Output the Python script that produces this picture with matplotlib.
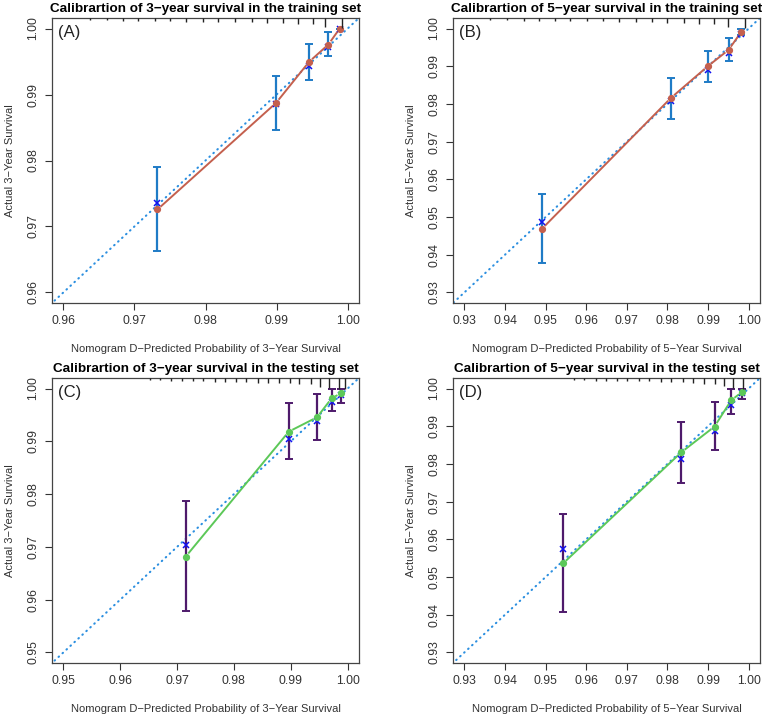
import matplotlib.pyplot as plt

plt.rcParams['font.family'] = ['Liberation Sans', 'DejaVu Sans']

# ---- data ----
# (A) 3-year, training
a_pred = [0.97324, 0.98994, 0.99457, 0.99729, 0.99888]
a_obs = [0.97258, 0.98874, 0.99495, 0.99758, 1.00000]
a_km = [0.97359, 0.98854, 0.99434, 0.99722, 1.00000]
a_lo = [0.96631, 0.98465, 0.99227, 0.99581, 1.00000]
a_hi = [0.97894, 0.99278, 0.99768, 0.99949, 1.00000]
a_rug = [0.9638, 0.9661, 0.9684, 0.9705, 0.9729, 0.9750, 0.9773, 0.9796, 0.9818,
         0.9841, 0.9865, 0.9886, 0.9909, 0.9930, 0.9951, 0.9968, 0.9992]
a_rug_h = [2, 2, 2.5, 2.5, 3, 3, 3.5, 3.5, 4, 4, 4.5, 5, 5, 5.5, 6, 9, 10]

# (B) 5-year, training
b_pred = [0.94911, 0.98089, 0.98995, 0.99506, 0.99819]
b_obs = [0.94688, 0.98162, 0.99001, 0.99434, 0.99912]
b_km = [0.94856, 0.98073, 0.98895, 0.99364, 0.99867]
b_lo = [0.93787, 0.97614, 0.98586, 0.99134, 0.99823]
b_hi = [0.95607, 0.98701, 0.99399, 0.99744, 0.99991]
b_rug = [0.9363, 0.9405, 0.9446, 0.9483, 0.9524, 0.9561, 0.9602, 0.9642, 0.9680,
         0.9722, 0.9763, 0.9800, 0.9841, 0.9878, 0.9915, 0.9950, 0.9990]
b_rug_h = [2, 2, 2.5, 2.5, 3, 3, 3.5, 3.5, 4, 4, 4.5, 5, 5, 5.5, 6, 9, 10]

# (C) 3-year, testing
c_pred = [0.97152, 0.98965, 0.99462, 0.99719, 0.99883]
c_obs = [0.96816, 0.99184, 0.99456, 0.99816, 0.99911]
c_km = [0.97044, 0.99044, 0.99392, 0.99747, 0.99886]
c_lo = [0.95785, 0.98658, 0.99019, 0.99570, 0.99734]
c_hi = [0.97861, 0.99722, 0.99892, 1.00000, 1.00000]
c_rug = [0.9652, 0.9670, 0.9690, 0.9708, 0.9728, 0.9746, 0.9766, 0.9784, 0.9804, 0.9822,
         0.9842, 0.9860, 0.9880, 0.9898, 0.9915, 0.9935, 0.9952, 0.9968, 0.9984, 0.9996]
c_rug_h = [2, 2, 2.5, 2.5, 3, 3, 3.5, 3.5, 4, 4, 4.5, 4.5, 5, 5, 5.5, 6,
           9, 10, 11, 11]

# (D) 5-year, testing
d_pred = [0.95429, 0.98345, 0.99160, 0.99572, 0.99843]
d_obs = [0.95360, 0.98312, 0.98992, 0.99691, 0.99912]
d_km = [0.95740, 0.98126, 0.98869, 0.99558, 0.99876]
d_lo = [0.94060, 0.97508, 0.98383, 0.99337, 0.99735]
d_hi = [0.96668, 0.99125, 0.99638, 1.00000, 1.00000]
d_rug = [0.9569, 0.9594, 0.9623, 0.9648, 0.9676, 0.9701, 0.9730, 0.9755, 0.9784,
         0.9809, 0.9838, 0.9862, 0.9891, 0.9916, 0.9940, 0.9962, 0.9985]
d_rug_h = [2, 2, 2.5, 2.5, 3, 3, 3.5, 3.5, 4, 4, 4.5, 5, 5.5, 6, 8, 10, 11]

panels = [
    ('(A)', 'Calibrartion of 3\u2212year survival in the training set', '3',
     (0.96, 1.00), [0.96, 0.97, 0.98, 0.99, 1.00],
     a_pred, a_obs, a_km, a_lo, a_hi, a_rug, a_rug_h, '#C4604E', '#1F7BC6'),
    ('(B)', 'Calibrartion of 5\u2212year survival in the training set', '5',
     (0.93, 1.00), [0.93, 0.94, 0.95, 0.96, 0.97, 0.98, 0.99, 1.00],
     b_pred, b_obs, b_km, b_lo, b_hi, b_rug, b_rug_h, '#C4604E', '#1F7BC6'),
    ('(C)', 'Calibrartion of 3\u2212year survival in the testing set', '3',
     (0.95, 1.00), [0.95, 0.96, 0.97, 0.98, 0.99, 1.00],
     c_pred, c_obs, c_km, c_lo, c_hi, c_rug, c_rug_h, '#5CC858', '#4E1A6B'),
    ('(D)', 'Calibrartion of 5\u2212year survival in the testing set', '5',
     (0.93, 1.00), [0.93, 0.94, 0.95, 0.96, 0.97, 0.98, 0.99, 1.00],
     d_pred, d_obs, d_km, d_lo, d_hi, d_rug, d_rug_h, '#5CC858', '#4E1A6B'),
]

W, H = 762, 718
fig = plt.figure(figsize=(W / 100, H / 100), dpi=100)
boxes = [(52, 18), (453, 18), (52, 378), (453, 378)]
GAP = 4.0  # pixels left open around each point, like R's type="b"

for (lab, title, yr, lims, ticks, pred, obs, km, lo, hi, rug, rug_h, lcol, ecol), (left, top) in zip(panels, boxes):
    ax = fig.add_axes([left / W, (H - top - 285) / H, 307 / W, 285 / H])
    pad = (lims[1] - lims[0]) * 0.04
    ax.set_xlim(lims[0] - pad, lims[1] + pad)
    ax.set_ylim(lims[0] - pad, lims[1] + pad)

    # ideal line
    ax.plot([0, 1.1], [0, 1.1], color='#2B8FE0', lw=1.5, ls=(0, (0.3, 2.3)),
            dash_capstyle='round', zorder=2)

    # error bars
    yerr = [[o - l for o, l in zip(km, lo)], [h - o for o, h in zip(km, hi)]]
    ax.errorbar(pred, km, yerr=yerr, fmt='none', ecolor=ecol, elinewidth=1.6,
                capsize=2.6, capthick=1.4, zorder=3)

    # observed line, broken around the points
    inv = ax.transData.inverted()
    pix = ax.transData.transform(list(zip(pred, obs)))
    for p0, p1 in zip(pix[:-1], pix[1:]):
        d = p1 - p0
        dist = (d[0] ** 2 + d[1] ** 2) ** 0.5
        if dist <= 2 * GAP:
            continue
        u = d / dist
        seg = inv.transform([p0 + u * GAP, p1 - u * GAP])
        ax.plot(seg[:, 0], seg[:, 1], color=lcol, lw=1.4, zorder=4,
                solid_capstyle='butt')
    ax.plot(pred, obs, 'o', color=lcol, ms=4.2, zorder=5)
    ax.plot(pred, km, 'x', color='#1010F0', ms=4, mew=1.1, zorder=4)

    # rug of predicted values hanging from the top edge (data coords)
    ytop = lims[1] + pad
    per_px = (lims[1] - lims[0] + 2 * pad) / 285
    ax.vlines(rug, [ytop - h * per_px for h in rug_h], ytop, colors='#222222',
              linewidths=1.0, zorder=6)

    ax.text(0.018, 0.975, lab, transform=ax.transAxes, fontsize=12,
            va='top', ha='left', color='#222222')
    ax.set_title(title, fontsize=9.7, fontweight='bold', pad=4)
    ax.set_xticks(ticks)
    ax.set_yticks(ticks)
    ax.set_xticklabels(['%.2f' % t for t in ticks])
    ax.set_yticklabels(['%.2f' % t for t in ticks], rotation=90, va='center')
    ax.tick_params(direction='out', length=5, width=0.8, labelsize=8.8,
                   colors='#333333', pad=4)
    for s in ax.spines.values():
        s.set_color('#444444')
        s.set_linewidth(0.9)
    ax.set_xlabel('Nomogram D\u2212Predicted Probability of %s\u2212Year Survival' % yr,
                  fontsize=8, color='#333333', labelpad=12)
    ax.set_ylabel('Actual %s\u2212Year Survival' % yr, fontsize=8,
                  color='#333333', labelpad=9)

fig.savefig('out.png', dpi=100)
